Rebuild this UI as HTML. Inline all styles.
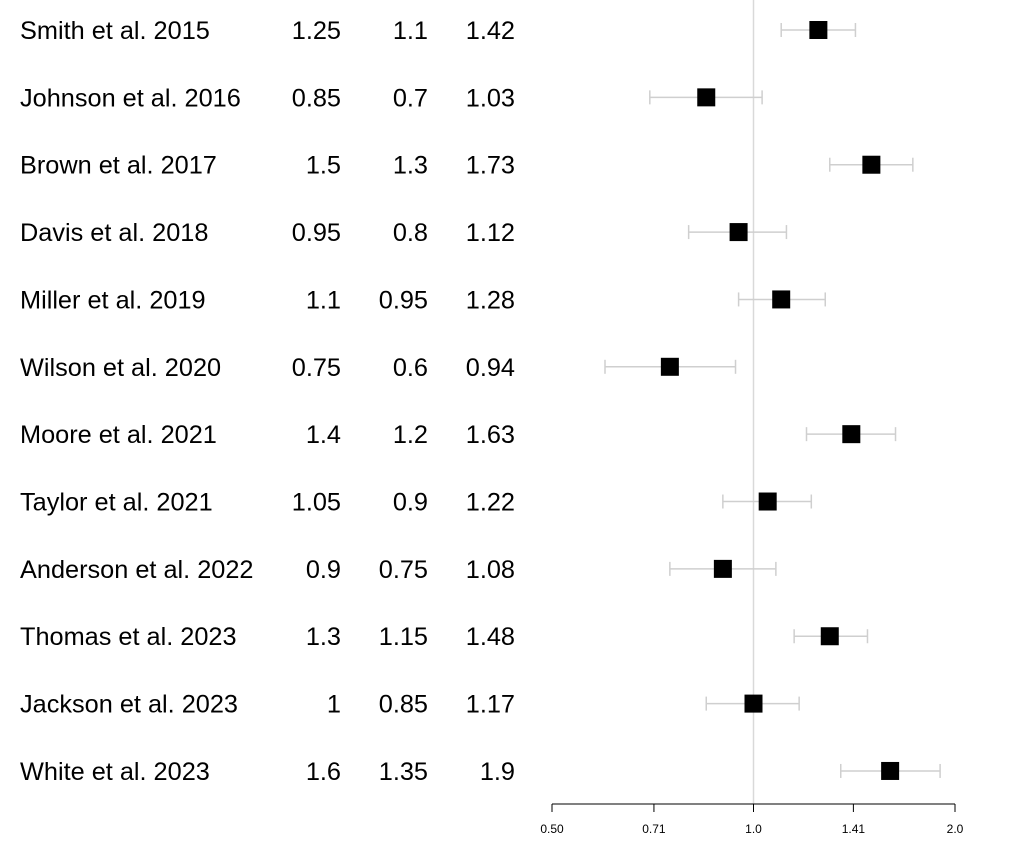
<!DOCTYPE html>
<html><head><meta charset="utf-8"><style>
body{margin:0;background:#fff;}
svg{display:block;font-family:"Liberation Sans",Arial,sans-serif;}
</style></head><body>
<svg id="c" width="1015" height="862"></svg>
<script>
const studies=["Smith et al. 2015","Johnson et al. 2016","Brown et al. 2017","Davis et al. 2018","Miller et al. 2019","Wilson et al. 2020","Moore et al. 2021","Taylor et al. 2021","Anderson et al. 2022","Thomas et al. 2023","Jackson et al. 2023","White et al. 2023"];
const est=[1.25,0.85,1.5,0.95,1.1,0.75,1.4,1.05,0.9,1.3,1,1.6];
const lower=[1.1,0.7,1.3,0.8,0.95,0.6,1.2,0.9,0.75,1.15,0.85,1.35];
const upper=[1.42,1.03,1.73,1.12,1.28,0.94,1.63,1.22,1.08,1.48,1.17,1.9];
const ticks=[0.5,0.71,1.0,1.41,2.0];
const tickLabels=["0.50","0.71","1.0","1.41","2.0"];
const NS="http://www.w3.org/2000/svg";
const svg=document.getElementById('c');
const x0=552,x1=955;
function xs(v){return x0+(Math.log2(v)+1)/2*(x1-x0);}
function ys(i){return 30+i*67.36;}
function mk(t,a){const e=document.createElementNS(NS,t);for(const k in a)e.setAttribute(k,a[k]);svg.appendChild(e);return e;}
let v=mk('line',{x1:xs(1),x2:xs(1),y1:0,y2:804,stroke:'#d9d9d9','stroke-width':1.5});


studies.forEach((s,i)=>{
  const y=ys(i);
  const cols=[[s,20,'start'],[String(est[i]),341,'end'],[String(lower[i]),428,'end'],[String(upper[i]),515,'end']];
  cols.forEach((c,j)=>{
    const t=mk('text',{x:c[1],y:y+9,'font-size':25.3,'text-anchor':c[2],fill:'#000'});
    t.textContent=c[0];
    
    
  });
  const g=mk('g',{stroke:'#cfcfcf','stroke-width':1.5});
  
  
  [['line',{x1:xs(lower[i]),x2:xs(upper[i]),y1:y,y2:y}],['line',{x1:xs(lower[i]),x2:xs(lower[i]),y1:y-7,y2:y+7}],['line',{x1:xs(upper[i]),x2:xs(upper[i]),y1:y-7,y2:y+7}]].forEach(l=>{const e=document.createElementNS(NS,l[0]);for(const k in l[1])e.setAttribute(k,l[1][k]);g.appendChild(e);});
  const r=mk('rect',{x:xs(est[i])-9,y:y-9,width:18,height:18,fill:'#000'});
  
  
});
let ax=mk('line',{x1:x0,x2:x1,y1:804,y2:804,stroke:'#000','stroke-width':1});


ticks.forEach((t,i)=>{
  const l=mk('line',{x1:xs(t),x2:xs(t),y1:804,y2:812,stroke:'#000'});
  
  
  const tx=mk('text',{x:xs(t),y:833,'font-size':12,'text-anchor':'middle',fill:'#000'});
  tx.textContent=tickLabels[i];
  
  
});
</script>
</body></html>
